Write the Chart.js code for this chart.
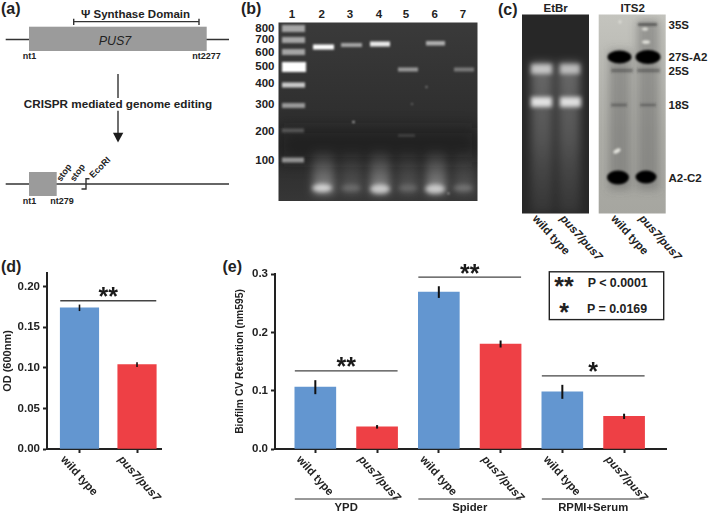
<!DOCTYPE html>
<html><head><meta charset="utf-8">
<style>
html,body{margin:0;padding:0;background:#fff;width:709px;height:515px;overflow:hidden}
svg,canvas{position:absolute}
svg text{font-family:"Liberation Sans",Arial,sans-serif;font-weight:bold;fill:#222}
</style>
<script src="https://cdn.jsdelivr.net/npm/chart.js@4"></script>
</head><body>
<svg width="709" height="515" viewBox="0 0 709 515" style="left:0;top:0">
<defs>
<filter id="b05" x="-30%" y="-100%" width="160%" height="300%"><feGaussianBlur stdDeviation="0.8"/></filter>
<filter id="b1" x="-30%" y="-100%" width="160%" height="300%"><feGaussianBlur stdDeviation="1.3"/></filter>
<filter id="b2" x="-40%" y="-150%" width="180%" height="400%"><feGaussianBlur stdDeviation="2.2"/></filter>
<filter id="b4" x="-60%" y="-60%" width="220%" height="220%"><feGaussianBlur stdDeviation="4"/></filter>
<filter id="b8" x="-30%" y="-100%" width="160%" height="300%"><feGaussianBlur stdDeviation="8"/></filter>
<clipPath id="cb"><rect x="278.5" y="22.5" width="199" height="178.5"/></clipPath>
<clipPath id="cc1"><rect x="522" y="14.5" width="67" height="199"/></clipPath>
<clipPath id="cc2"><rect x="598.7" y="14.5" width="67" height="199"/></clipPath>
<linearGradient id="smear" x1="0" y1="0" x2="0" y2="1"><stop offset="0" stop-color="#fff" stop-opacity=".03"/><stop offset="1" stop-color="#fff" stop-opacity=".45"/></linearGradient>
<linearGradient id="smear2" x1="0" y1="0" x2="0" y2="1"><stop offset="0" stop-color="#fff" stop-opacity=".02"/><stop offset="1" stop-color="#fff" stop-opacity=".17"/></linearGradient>
<linearGradient id="etsm" x1="0" y1="0" x2="0" y2="1"><stop offset="0" stop-color="#bbb" stop-opacity=".45"/><stop offset=".5" stop-color="#999" stop-opacity=".4"/><stop offset="1" stop-color="#777" stop-opacity=".18"/></linearGradient>
<linearGradient id="itsbg" x1="0" y1="0" x2="0" y2="1"><stop offset="0" stop-color="#c4c4be"/><stop offset=".6" stop-color="#adada7"/><stop offset="1" stop-color="#a6a6a0"/></linearGradient>
<linearGradient id="gelbg" x1="0" y1="0" x2="0" y2="1"><stop offset="0" stop-color="#3a3a3a"/><stop offset=".7" stop-color="#2b2b2b"/><stop offset="1" stop-color="#363636"/></linearGradient>
</defs>

<g font-size="16">
<text x="1" y="13.5">(a)</text><text x="241" y="13.5">(b)</text><text x="498" y="14.5">(c)</text>
<text x="1" y="272">(d)</text><text x="222.5" y="272">(e)</text>
</g>

<g stroke="#333" stroke-width="1.4" fill="none">
<line x1="5.7" y1="39.5" x2="229" y2="39.5"/>
<line x1="5.7" y1="184" x2="229" y2="184"/>
<path d="M73.7 18.7V25M73.7 21.6H199M199 18.7V25"/>
<path d="M118 74V98M118 110.7V134"/>
<path d="M81.5 189H86V178.7H89.5"/>
</g>
<rect x="29" y="26.7" width="177.7" height="24.3" fill="#9b9b9b"/>
<rect x="29" y="172" width="27.7" height="24" fill="#9b9b9b"/>
<path d="M113 132.7H123.3L118 142.4Z" fill="#1c1c1c"/>
<text x="115" y="44.5" font-size="12.5" text-anchor="middle" style="font-style:italic;font-weight:normal">PUS7</text>
<text x="135.5" y="18" font-size="11.5" text-anchor="middle">Ψ Synthase Domain</text>
<g font-size="9" text-anchor="middle">
<text x="29.5" y="59">nt1</text><text x="206.5" y="59">nt2277</text>
<text x="29.5" y="203.5">nt1</text><text x="62" y="203.5">nt279</text>
</g>
<text x="118" y="108" font-size="11.7" text-anchor="middle">CRISPR mediated genome editing</text>
<g font-size="9">
<text transform="translate(61,182) rotate(-55)">stop</text>
<text transform="translate(74.5,182) rotate(-55)">stop</text>
<text transform="translate(93,178.5) rotate(-45)">EcoRI</text>
</g>

<g font-size="11.5" text-anchor="middle">
<text x="292" y="17.5">1</text><text x="321.7" y="17.5">2</text><text x="350" y="17.5">3</text><text x="379" y="17.5">4</text><text x="406" y="17.5">5</text><text x="434.7" y="17.5">6</text><text x="463" y="17.5">7</text>
</g>
<g font-size="11.5" text-anchor="end">
<text x="274.5" y="32">800</text><text x="274.5" y="43">700</text><text x="274.5" y="55.5">600</text><text x="274.5" y="70">500</text><text x="274.5" y="86.5">400</text><text x="274.5" y="107.5">300</text><text x="274.5" y="134.5">200</text><text x="274.5" y="164">100</text>
</g>
<rect x="278.5" y="22.5" width="199" height="178.5" fill="url(#gelbg)"/>
<g clip-path="url(#cb)">
<rect x="278.5" y="128" width="199" height="34" fill="#161616" filter="url(#b8)" opacity=".45"/>
<g filter="url(#b4)">
<rect x="313" y="150" width="21" height="44" fill="url(#smear)"/><rect x="341" y="150" width="21" height="44" fill="url(#smear2)"/>
<rect x="370" y="150" width="20" height="44" fill="url(#smear)"/><rect x="398" y="150" width="20" height="44" fill="url(#smear2)"/>
<rect x="426" y="150" width="20" height="44" fill="url(#smear)"/><rect x="454" y="150" width="20" height="44" fill="url(#smear2)"/>
</g>
<g filter="url(#b2)" fill="#fff">
<ellipse cx="322" cy="188" rx="10" ry="4" opacity=".65"/><ellipse cx="351" cy="188" rx="10" ry="3.5" opacity=".16"/>
<ellipse cx="380" cy="189" rx="10" ry="4.5" opacity=".6"/><ellipse cx="408" cy="188" rx="10" ry="3.5" opacity=".14"/>
<ellipse cx="435" cy="189" rx="10" ry="4.5" opacity=".6"/><ellipse cx="463" cy="188" rx="10" ry="3.5" opacity=".2"/>
</g>
<g filter="url(#b1)" fill="#fff">
<rect x="282" y="25" width="23" height="7" opacity=".55"/>
<rect x="282" y="37" width="23" height="6" opacity=".55"/>
<rect x="282" y="49" width="23" height="6" opacity=".55"/>
<rect x="282" y="62" width="24" height="10" opacity="1"/>
<rect x="282" y="82.5" width="23" height="5" opacity=".75"/>
<rect x="282" y="103" width="23" height="5" opacity=".5"/>
<rect x="282" y="128.5" width="22" height="4" opacity=".22"/>
<rect x="282" y="157.5" width="22" height="5" opacity=".5"/>
</g>
<g filter="url(#b05)" fill="#fff">
<rect x="313" y="44.5" width="21" height="5"/>
<rect x="341" y="43" width="21" height="4" opacity=".55"/>
<rect x="370" y="41.5" width="20" height="5" opacity=".9"/>
<rect x="398" y="67.5" width="20" height="4" opacity=".5"/>
<rect x="426" y="41" width="19" height="4.5" opacity=".6"/>
<rect x="454" y="67.5" width="20" height="4" opacity=".35"/>
<rect x="398" y="134" width="17" height="3" opacity=".12"/>
<circle cx="353.5" cy="122" r="1"/><circle cx="412" cy="104" r=".8" opacity=".6"/><circle cx="426.5" cy="87" r="1" opacity=".5"/><circle cx="448.5" cy="193.5" r=".8"/>
</g>
</g>

<rect x="522" y="14.5" width="67" height="199" fill="#272727"/>
<g clip-path="url(#cc1)">
<g filter="url(#b4)">
<rect x="531" y="62" width="22" height="151" fill="url(#etsm)"/><rect x="558" y="62" width="22" height="151" fill="url(#etsm)"/>
</g>
<g filter="url(#b2)" fill="#fff">
<rect x="531" y="64" width="21" height="10" opacity=".62"/><rect x="560" y="64" width="20" height="10" opacity=".56"/>
<rect x="531" y="97" width="21" height="10" opacity=".82"/><rect x="560" y="97" width="21" height="10" opacity=".8"/>
</g>
</g>
<rect x="598.7" y="14.5" width="67" height="199" fill="url(#itsbg)"/>
<g clip-path="url(#cc2)">
<g filter="url(#b4)" fill="#555">
<rect x="609" y="50" width="22" height="140" opacity=".4"/><rect x="637" y="20" width="22" height="170" opacity=".4"/>
</g>
<g filter="url(#b1)" fill="#333">
<rect x="611" y="68.5" width="22" height="4" opacity=".4"/><rect x="637" y="68.5" width="23" height="4" opacity=".4"/>
<rect x="611" y="103.5" width="16" height="3" opacity=".45"/><rect x="640" y="103.5" width="16" height="3" opacity=".4"/>
<rect x="638" y="23" width="19" height="3" opacity=".6"/>
</g>
<g filter="url(#b05)" fill="#060606">
<ellipse cx="619.5" cy="57" rx="12" ry="6.5"/><ellipse cx="648" cy="57" rx="12.5" ry="7"/>
<ellipse cx="618" cy="177.5" rx="11" ry="7"/><ellipse cx="646" cy="177" rx="10.5" ry="6.5"/>
</g>
<g filter="url(#b05)" fill="#e2e2dc">
<ellipse cx="617" cy="151" rx="4" ry="2" transform="rotate(-30 617 151)"/><ellipse cx="645" cy="29" rx="3" ry="1.6"/><ellipse cx="646" cy="42" rx="4" ry="1.8"/><circle cx="620" cy="22" r="1.4"/>
</g>
</g>
<g font-size="11.5" text-anchor="middle"><text x="555.7" y="12.3">EtBr</text><text x="632.7" y="12.3">ITS2</text></g>
<g font-size="11.5">
<text x="668.5" y="29">35S</text><text x="668.5" y="61">27S-A2</text><text x="668.5" y="74.5">25S</text><text x="668.5" y="108.5">18S</text><text x="668.5" y="182">A2-C2</text>
</g>
<g font-size="11.5">
<text transform="translate(532,219) rotate(48)">wild type</text>
<text transform="translate(559.5,219) rotate(48)" style="font-style:italic">pus7/pus7</text>
<text transform="translate(610.5,219) rotate(48)">wild type</text>
<text transform="translate(638.5,219) rotate(48)" style="font-style:italic">pus7/pus7</text>
</g>

<rect x="549.3" y="271.8" width="114.4" height="47.8" fill="#fff" stroke="#222" stroke-width="1.4"/>
<text x="564" y="295" font-size="25" text-anchor="middle">**</text>
<text x="564" y="321" font-size="25" text-anchor="middle">*</text>
<text x="587.7" y="287" font-size="12.4">P &lt; 0.0001</text>
<text x="587" y="312.5" font-size="12.4">P = 0.0169</text>
</svg>

<canvas id="cd" width="200" height="275" style="left:0;top:240px"></canvas>
<canvas id="ce" width="479" height="275" style="left:230px;top:240px"></canvas>

<script>
// ---- data ----
const odLabels   = ['wild type', 'pus7/pus7'];
const odValues   = [0.174, 0.104];
const odErrors   = [0.004, 0.003];
const odTicks    = [0, 0.05, 0.10, 0.15, 0.20];
const odSig      = [{from: 0, to: 1, value: 0.1827, stars: '**'}];

const bioLabels  = ['wild type', 'pus7/pus7', 'wild type', 'pus7/pus7', 'wild type', 'pus7/pus7'];
const bioValues  = [0.106, 0.038, 0.269, 0.180, 0.098, 0.056];
const bioErrors  = [0.012, 0.003, 0.010, 0.006, 0.012, 0.0045];
const bioTicks   = [0, 0.1, 0.2, 0.3];
const bioSig     = [
  {from: 0, to: 1, value: 0.134, stars: '**'},
  {from: 2, to: 3, value: 0.2945, stars: '**'},
  {from: 4, to: 5, value: 0.1254, stars: '*'}
];
const bioGroups  = [
  {from: 0, to: 1, name: 'YPD'},
  {from: 2, to: 3, name: 'Spider'},
  {from: 4, to: 5, name: 'RPMI+Serum'}
];
const BLUE = '#6396d0', RED = '#ee4045', INK = '#222';
const FONT = '"Liberation Sans", Arial, sans-serif';
Chart.defaults.font.family = FONT;
Chart.defaults.color = INK;

const overlay = {
  id: 'overlay',
  afterDataLimits(chart, args) {
    if (args.scale.axis === 'x') args.scale._getXAxisLabelAlignment = () => 'left';
  },
  afterDatasetsDraw(chart, args, o) {
    const {ctx, scales: {y, x}} = chart;
    const bars = chart.getDatasetMeta(0).data;
    const half = o.barWidth / 2;
    ctx.save();
    ctx.strokeStyle = '#111'; ctx.lineWidth = o.errWidth;
    o.errors.forEach((e, i) => {
      const v = chart.data.datasets[0].data[i].y;
      ctx.beginPath();
      ctx.moveTo(bars[i].x, y.getPixelForValue(v + e));
      ctx.lineTo(bars[i].x, y.getPixelForValue(v - e));
      ctx.stroke();
    });
    ctx.textAlign = 'center'; ctx.textBaseline = 'alphabetic';
    o.sig.forEach(s => {
      const py = y.getPixelForValue(s.value);
      const x0 = bars[s.from].x - half, x1 = bars[s.to].x + half;
      ctx.strokeStyle = '#444'; ctx.lineWidth = 1.3;
      ctx.beginPath(); ctx.moveTo(x0, py); ctx.lineTo(x1, py); ctx.stroke();
      ctx.fillStyle = '#1a1a1a';
      ctx.font = 'bold ' + o.starSize + 'px ' + FONT;
      ctx.fillText(s.stars, (x0 + x1) / 2, py + o.starDrop);
    });
    (o.groups || []).forEach(g => {
      const x0 = bars[g.from].x - half, x1 = bars[g.to].x + half;
      const base = x.bottom - 16;
      ctx.strokeStyle = '#333'; ctx.lineWidth = 1;
      ctx.beginPath(); ctx.moveTo(x0, base); ctx.lineTo(x1, base); ctx.stroke();
      ctx.fillStyle = INK; ctx.font = 'bold 11.3px ' + FONT;
      ctx.fillText(g.name, (x0 + x1) / 2, base + 11.5);
    });
    ctx.restore();
  }
};

function makeBars(id, cfg) {
  const points = cfg.values.map((v, i) => ({x: i, y: v}));
  return new Chart(document.getElementById(id), {
    type: 'bar',
    plugins: [overlay],
    data: {datasets: [{
      data: points,
      backgroundColor: cfg.values.map((_, i) => i % 2 ? RED : BLUE),
      barThickness: cfg.barWidth,
      borderWidth: 0
    }]},
    options: {
      responsive: false, animation: false, devicePixelRatio: 1,
      layout: {padding: {top: cfg.top, right: cfg.right, left: 0, bottom: 0}},
      plugins: {legend: {display: false}, tooltip: {enabled: false},
        overlay: {errors: cfg.errors, sig: cfg.sig, groups: cfg.groups, barWidth: cfg.barWidth,
                  errWidth: cfg.errWidth, starSize: cfg.starSize, starDrop: cfg.starDrop}},
      scales: {
        x: {
          type: 'linear', offset: false, min: cfg.xMin, max: cfg.xMax,
          afterBuildTicks(s) { s.ticks = cfg.values.map((_, i) => ({value: i})); },
          afterFit(s) { s.height = 66; s.paddingLeft = 0; s.paddingRight = 0; },
          border: {color: INK, width: 2},
          grid: {offset: false, drawOnChartArea: false, tickLength: 4, tickWidth: 2, tickColor: INK},
          ticks: {
            autoSkip: false, minRotation: -48, maxRotation: -48,
            padding: 0, labelOffset: cfg.labelOffset, color: INK,
            callback: v => cfg.labels[v],
            font: c => ({size: 11.5, style: c.index % 2 ? 'italic' : 'normal', weight: 'bold', family: FONT})
          }
        },
        y: {
          min: 0, max: cfg.yMax,
          afterBuildTicks(s) { s.ticks = cfg.ticks.map(v => ({value: v})); },
          afterFit(s) { s.width = cfg.axisWidth; s.paddingTop = 0; s.paddingBottom = 0; },
          border: {color: INK, width: 2},
          grid: {drawOnChartArea: false, tickLength: 4, tickWidth: 2, tickColor: INK},
          title: {display: true, text: cfg.title, color: INK, font: {size: cfg.titleSize, weight: 'bold'},
                  padding: {top: cfg.titlePad, bottom: 0}},
          ticks: {padding: 3, color: INK, font: {size: 11.5, weight: 'bold'},
                  callback: v => v.toFixed(cfg.decimals)}
        }
      }
    }
  });
}

makeBars('cd', {
  labels: odLabels, values: odValues, errors: odErrors, ticks: odTicks, sig: odSig,
  barWidth: 38.5, errWidth: 1.6, starSize: 25, starDrop: 4.5,
  top: 33, right: 39, axisWidth: 47, yMax: 0.2169, xMin: -0.565, xMax: 1.417,
  labelOffset: -17, title: 'OD (600nm)', titleSize: 11, titlePad: 1, decimals: 2
});
makeBars('ce', {
  labels: bioLabels, values: bioValues, errors: bioErrors, ticks: bioTicks, sig: bioSig, groups: bioGroups,
  barWidth: 41, errWidth: 2, starSize: 25, starDrop: 4.5,
  top: 34, right: 42.3, axisWidth: 45, yMax: 0.3, xMin: -0.653, xMax: 5.69,
  labelOffset: -17, title: 'Biofilm CV Retention (nm595)', titleSize: 10.3, titlePad: 4.4, decimals: 1
});
</script>
</body></html>
